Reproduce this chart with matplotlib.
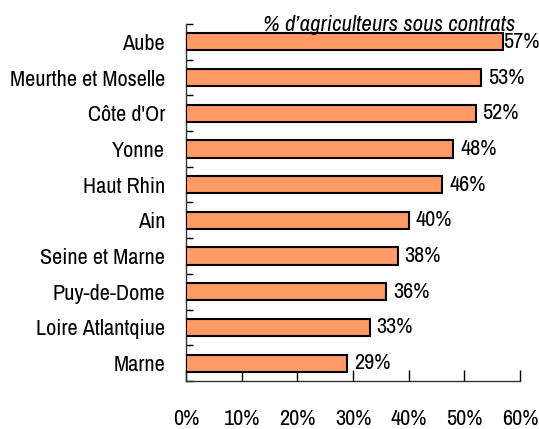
import matplotlib

matplotlib.use("Agg")

import matplotlib.pyplot as plt
import numpy as np

regions = ["Aube", "Meurthe et Moselle", "Côte d'Or", "Yonne", "Haut Rhin",
           "Ain", "Seine et Marne", "Puy-de-Dome", "Loire Atlantqiue", "Marne"]
shares = [57, 53, 52, 48, 46, 40, 38, 36, 33, 29]
x_ticks = [0, 10, 20, 30, 40, 50, 60]

plt.rcParams["font.family"] = ["Liberation Sans Narrow", "Arial Narrow", "Archivo Narrow",
                               "Roboto Condensed", "Liberation Sans", "DejaVu Sans"]
fs = 16

fig = plt.figure(figsize=(5.39, 4.29), dpi=100)
ax = fig.add_axes([0.345, 0.112, 0.62, 0.832])

n = len(regions)
pos = np.arange(n)[::-1]
ax.barh(pos, shares, height=0.48, color="#FF9966", edgecolor="black", linewidth=1.5, zorder=3)

# label sits just past the bar, but the top one is pushed back to fit the frame
for y, v in zip(pos, shares):
    ax.text(min(v + 1.25, 57.0), y, f"{v}%", va="center", ha="left", fontsize=fs,
            zorder=2, clip_on=False)

ax.set_xlim(0, 60)
ax.set_ylim(-0.5, n - 0.5)
ax.set_xticks(x_ticks)
ax.set_xticklabels([f"{t}%" for t in x_ticks], fontsize=fs)
ax.set_yticks(pos)
ax.set_yticklabels(regions, fontsize=fs)
ax.set_yticks(np.arange(-0.5, n, 1.0), minor=True)

ax.tick_params(axis="x", direction="in", length=8, width=1, pad=20)
ax.tick_params(axis="y", which="major", length=0, pad=15)
ax.tick_params(axis="y", which="minor", direction="in", length=5, width=1)

for side in ("top", "right"):
    ax.spines[side].set_visible(False)
for side in ("left", "bottom"):
    ax.spines[side].set_linewidth(1)
    ax.spines[side].set_color("#333333")

fig.text(0.722, 0.928, "% d\u2019agriculteurs sous contrats", ha="center", va="baseline",
         style="italic", fontsize=16.5)

fig.savefig("out.png", dpi=100)
